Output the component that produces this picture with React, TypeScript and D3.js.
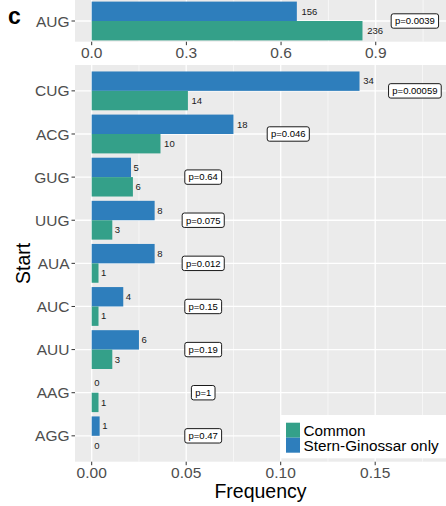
import React from "react";
import * as d3 from "d3";

const starts = ["AUG", "CUG", "ACG", "GUG", "UUG", "AUA", "AUC", "AUU", "AAG", "AGG"];
const topStarts = ["AUG"];
const bottomStarts = ["CUG", "ACG", "GUG", "UUG", "AUA", "AUC", "AUU", "AAG", "AGG"];
const commonCounts = [236, 14, 10, 6, 3, 1, 1, 3, 1, 0];
const sgCounts = [156, 34, 18, 5, 8, 8, 4, 6, 0, 1];
const commonFreq = [0.858, 0.0509, 0.0364, 0.0218, 0.0109, 0.0036, 0.0036, 0.0109, 0.0036, 0];
const sgFreq = [0.65, 0.1417, 0.075, 0.0208, 0.0333, 0.0333, 0.0167, 0.025, 0, 0.0042];
const pLabels = ["p=0.0039", "p=0.00059", "p=0.046", "p=0.64", "p=0.075", "p=0.012", "p=0.15", "p=0.19", "p=1", "p=0.47"];
const pLabelX = [1.024, 0.171, 0.104, 0.059, 0.059, 0.059, 0.059, 0.059, 0.059, 0.059];
const topTicks = [0, 0.3, 0.6, 0.9];
const topMinor = [0.15, 0.45, 0.75, 1.05];
const bottomTicks = [0, 0.05, 0.1, 0.15];
const bottomMinor = [0.025, 0.075, 0.125, 0.175];
const seriesNames = ["Common", "Stern-Ginossar only"];
const seriesColors = ["#34a089", "#2e7ebc"];

const FONT = "'Liberation Sans', Arial, Helvetica, sans-serif";

let ctx: CanvasRenderingContext2D | null = null;
function textWidth(t: string, size: number) {
  if (!ctx) ctx = document.createElement("canvas").getContext("2d");
  if (!ctx) return t.length * size * 0.55;
  ctx.font = `${size}px ${FONT}`;
  return ctx.measureText(t).width;
}

type PanelProps = {
  cats: string[];
  x: d3.ScaleLinear<number, number>;
  y: d3.ScalePoint<string>;
  top: number;
  bottom: number;
  left: number;
  right: number;
  ticks: number[];
  minor: number[];
  fmt: (v: number) => string;
};

function Panel({ cats, x, y, top, bottom, left, right, ticks, minor, fmt }: PanelProps) {
  const step = y.step();
  const half = step * 0.45;
  return (
    <g>
      <rect x={left} y={top} width={right - left} height={bottom - top} fill="#ebebeb" />
      {minor.map((v) => (
        <line key={"mi" + v} x1={x(v)} x2={x(v)} y1={top} y2={bottom} stroke="#fff" strokeWidth={0.6} />
      ))}
      {ticks.map((v) => (
        <line key={"ma" + v} x1={x(v)} x2={x(v)} y1={top} y2={bottom} stroke="#fff" strokeWidth={1.3} />
      ))}
      {cats.map((c) => (
        <line key={"h" + c} x1={left} x2={right} y1={y(c)!} y2={y(c)!} stroke="#fff" strokeWidth={1.3} />
      ))}
      {cats.map((c) => {
        const i = starts.indexOf(c);
        const cy = y(c)!;
        const sgW = x(sgFreq[i]) - x(0);
        const cmW = x(commonFreq[i]) - x(0);
        const sgT = String(sgCounts[i]);
        const cmT = String(commonCounts[i]);
        const pw = textWidth(pLabels[i], 9.5) + 7.5;
        const px = x(pLabelX[i]);
        return (
          <g key={c}>
            <rect x={x(0)} y={cy - half} width={sgW} height={half} fill={seriesColors[1]} />
            <rect x={x(0)} y={cy} width={cmW} height={half} fill={seriesColors[0]} />
            <text x={x(sgFreq[i]) + 1.5 + textWidth(sgT, 9.5) * 0.2} y={cy - half / 2} dy="0.35em" fontSize={9.5} fill="#1a1a1a" fontFamily={FONT}>{sgT}</text>
            <text x={x(commonFreq[i]) + 1.5 + textWidth(cmT, 9.5) * 0.2} y={cy + half / 2} dy="0.35em" fontSize={9.5} fill="#1a1a1a" fontFamily={FONT}>{cmT}</text>
            <rect x={px - pw / 2} y={cy - 7.2} width={pw} height={14.4} rx={2.2} fill="#fff" stroke="#000" strokeWidth={0.9} />
            <text x={px} y={cy} dy="0.35em" textAnchor="middle" fontSize={9.5} fill="#000" fontFamily={FONT}>{pLabels[i]}</text>
          </g>
        );
      })}
      {cats.map((c) => (
        <g key={"yl" + c}>
          <line x1={left - 3.5} x2={left} y1={y(c)!} y2={y(c)!} stroke="#333" strokeWidth={1} />
          <text x={left - 5.5} y={y(c)!} dy="0.36em" textAnchor="end" fontSize={15.5} fill="#4d4d4d" fontFamily={FONT}>{c}</text>
        </g>
      ))}
      {ticks.map((v) => (
        <g key={"xl" + v}>
          <line x1={x(v)} x2={x(v)} y1={bottom} y2={bottom + 3.5} stroke="#333" strokeWidth={1} />
          <text x={x(v)} y={bottom + 16.5} textAnchor="middle" fontSize={15.5} fill="#4d4d4d" fontFamily={FONT}>{fmt(v)}</text>
        </g>
      ))}
    </g>
  );
}

export default function App() {
  const W = 446;
  const H = 506;
  const left = 75;
  const right = 446;
  const zeroX = 91.7;

  const xTop = d3.scaleLinear().domain([(left - zeroX) / 315.6, (right - zeroX) / 315.6]).range([left, right]);
  const xBot = d3.scaleLinear().domain([(left - zeroX) / 1890, (right - zeroX) / 1890]).range([left, right]);

  const botTop = 65;
  const botBottom = 461.7;
  const yBot = d3.scalePoint<string>().domain(bottomStarts).range([botTop, botBottom]).padding(0.6);
  const step = yBot.step();
  const topCenter = 21;
  const yTop = d3.scalePoint<string>().domain(topStarts).range([topCenter - 0.6 * step, topCenter + 0.6 * step]).padding(0.6);

  return (
    <svg width={W} height={H} style={{ position: "absolute", left: 0, top: 0, background: "#fff" }}>
      <rect x={0} y={0} width={W} height={H} fill="#fff" />
      <Panel cats={topStarts} x={xTop} y={yTop} top={0} bottom={41.7} left={left} right={right} ticks={topTicks} minor={topMinor} fmt={d3.format(".1f")} />
      <Panel cats={bottomStarts} x={xBot} y={yBot} top={botTop} bottom={botBottom} left={left} right={right} ticks={bottomTicks} minor={bottomMinor} fmt={d3.format(".2f")} />
      <text x={8} y={23.5} fontSize={23} fontWeight="bold" fill="#000" fontFamily={FONT}>c</text>
      <text x={(left + right) / 2} y={498} textAnchor="middle" fontSize={19.5} fill="#000" fontFamily={FONT}>Frequency</text>
      <text transform={`translate(29.5, ${(botTop + botBottom) / 2}) rotate(-90)`} textAnchor="middle" fontSize={19.5} fill="#000" fontFamily={FONT}>Start</text>
      <g>
        <rect x={280.7} y={415} width={W - 280.7} height={43.3} fill="#fff" />
        {seriesNames.map((n, i) => (
          <g key={n}>
            <rect x={286} y={422.7 + i * 15} width={14} height={15} fill={seriesColors[i]} />
            <text x={303.5} y={436 + i * 15} fontSize={15.3} fill="#000" fontFamily={FONT}>{n}</text>
          </g>
        ))}
      </g>
    </svg>
  );
}
